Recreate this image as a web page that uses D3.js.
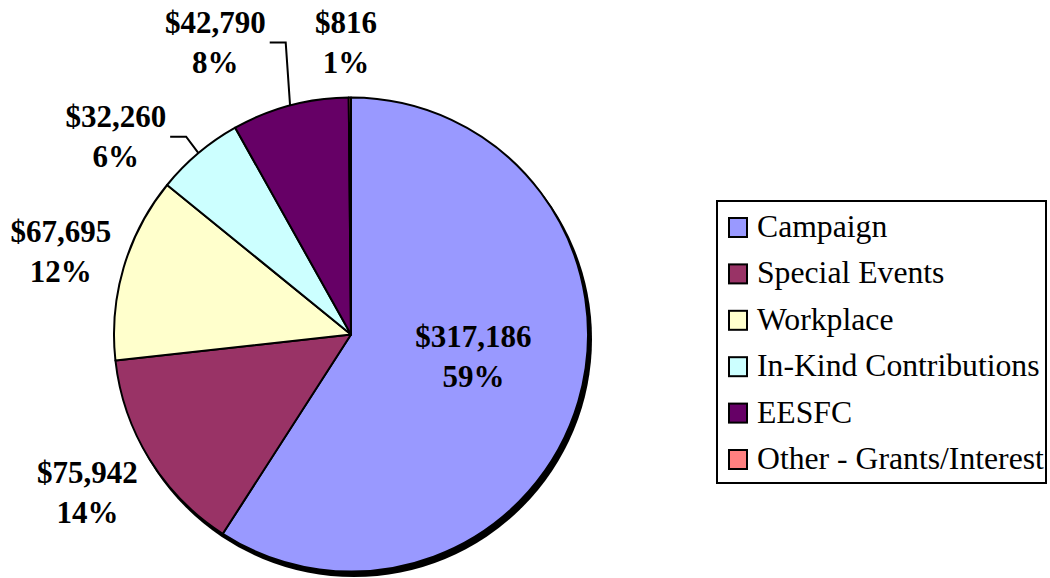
<!DOCTYPE html>
<html>
<head>
<meta charset="utf-8">
<script src="https://cdn.jsdelivr.net/npm/d3@7"></script>
<style>
  html, body { margin: 0; padding: 0; background: #fff; }
  svg { display: block; }
</style>
</head>
<body>
<svg id="chart" width="1050" height="578"></svg>
<script>
// ---- data ----
const categories = ["Campaign", "Special Events", "Workplace", "In-Kind Contributions", "EESFC", "Other - Grants/Interest"];
const values = [317186, 75942, 67695, 32260, 42790, 816];
const percentLabels = ["59%", "14%", "12%", "6%", "8%", "1%"];
const colors = ["#9999FF", "#993366", "#FFFFCC", "#CCFFFF", "#660066", "#FF8080"];

// ---- layout (label placement, not data) ----
const W = 1050, H = 578;
const cx = 351, cy = 334.5, R = 237;
const fontFamily = "'Liberation Serif', 'Times New Roman', serif";
const fontSize = 31;
const legendFontSize = 31.7;
// label anchor: angle (deg clockwise from top) and radius (in units of R)
const labelAngle = [105, 237.4, 284, 308.6, 334.3, 359];
const labelRadius = [0.535, 1.32, 1.262, 1.27, 1.32, 1.19];
const hasLeader = [false, false, false, true, true, false];

const svg = d3.select("#chart");
const g = svg.append("g").attr("transform", `translate(${cx},${cy})`);

const pie = d3.pie().sort(null).value(d => d)
  .startAngle(0).endAngle(2 * Math.PI);
const arcs = pie(values);
const arc = d3.arc().innerRadius(0).outerRadius(R);

// shadow
g.append("circle")
  .attr("cx", 3).attr("cy", 4.5).attr("r", R + 1)
  .attr("fill", "#000");

g.selectAll("path.slice")
  .data(arcs)
  .join("path")
  .attr("class", "slice")
  .attr("d", arc)
  .attr("fill", (d, i) => colors[i])
  .attr("stroke", "#000")
  .attr("stroke-width", 2)
  .attr("stroke-linejoin", "round");

const fmt = d3.format("$,");
function polar(angDeg, r) {
  const a = angDeg * Math.PI / 180;
  return [r * Math.sin(a), -r * Math.cos(a)];
}

const lineGap = 40;
arcs.forEach((d, i) => {
  const [lx, ly] = polar(labelAngle[i], labelRadius[i] * R);
  const t = g.append("text")
    .attr("text-anchor", "middle")
    .attr("font-family", fontFamily)
    .attr("font-weight", "bold")
    .attr("font-size", fontSize)
    .attr("fill", "#000");
  const y1 = ly - lineGap / 2;
  t.append("tspan").attr("x", lx).attr("y", y1).text(fmt(values[i]));
  t.append("tspan").attr("x", lx).attr("y", y1 + lineGap).text(percentLabels[i]);

  if (hasLeader[i]) {
    const w = t.node().getBBox().width;
    const mid = (d.startAngle + d.endAngle) / 2 * 180 / Math.PI;
    const [sx, sy] = polar(mid, R);
    const ex = lx + w / 2 + 4, ey = y1 + 10;
    const kx = ex + 16;
    g.append("path")
      .attr("d", d3.line()([[sx, sy], [kx, ey], [ex, ey]]))
      .attr("fill", "none")
      .attr("stroke", "#000")
      .attr("stroke-width", 2);
  }
});

// ---- legend ----
const legX = 717, legY = 201, legW = 329, legH = 282;
const legend = svg.append("g");
legend.append("rect")
  .attr("x", legX).attr("y", legY).attr("width", legW).attr("height", legH)
  .attr("fill", "#fff").attr("stroke", "#000").attr("stroke-width", 2);

const rowY = d3.scalePoint().domain(categories).range([227, 459]);
const items = legend.selectAll("g.item").data(categories).join("g")
  .attr("class", "item")
  .attr("transform", d => `translate(${legX + 12},${rowY(d)})`);
items.append("rect")
  .attr("x", 0).attr("y", -9).attr("width", 18).attr("height", 19)
  .attr("fill", (d, i) => colors[i])
  .attr("stroke", "#000").attr("stroke-width", 2);
items.append("text")
  .attr("x", 28).attr("y", 10)
  .attr("font-family", fontFamily)
  .attr("font-size", legendFontSize)
  .attr("fill", "#000")
  .text(d => d);
</script>
</body>
</html>
